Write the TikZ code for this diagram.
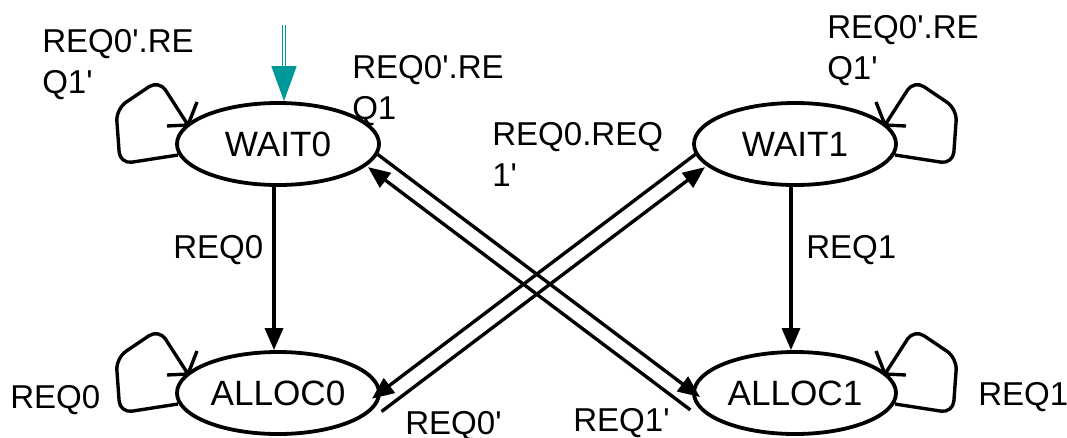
\documentclass[tikz,border=0pt]{standalone}
\usepackage{fontspec}
\newfontfamily\diagfont{Liberation Sans}
\usetikzlibrary{shapes.geometric, arrows.meta, calc}
\definecolor{initcol}{RGB}{0,153,153}
\tikzset{
	cond/.style={anchor=north west, inner sep=0pt, align=left, font=\diagfont\fontsize{23.5}{29}\selectfont},
	trans/.style={line width=2.4pt, -{Triangle[length=.55cm, width=.45cm]}},
	selfloop/.style={line width=2.4pt, line join=round},
}
\begin{document}
\begin{tikzpicture}[x=.025cm, y=-.025cm]
	\useasboundingbox (0, 0) rectangle (1067, 437);
	\begin{scope}[ellipse, inner sep=0pt, minimum width=5.05cm, minimum height=2.05cm, line width=2.7pt, font=\diagfont\fontsize{25}{30}\selectfont]
		\node[draw] (w0) at (278, 144) {WAIT0};
		\node[draw] (w1) at (795, 144) {WAIT1};
		\node[draw] (a0) at (278, 393) {ALLOC0};
		\node[draw] (a1) at (795, 393) {ALLOC1};
	\end{scope}
	% start marker
	\coordinate (init) at (284, 25);
	\draw[initcol, line width=1.2pt, double=white, double distance=.8pt, -{Triangle[length=.875cm, width=.625cm, fill=initcol]}]
		(init) -- (init |- w0.north);
	% self loops with open heads, mirrored on the right-hand side
	\foreach \s/\d in {w0/1, a0/1, w1/-1, a1/-1}
		\draw[selfloop, shift={(\s)}, xscale=\d]
			(-100, 11) [rounded corners=.3cm] -- (-158, 20) -- (-162, -35) -- (-119, -64) -- (-90, -19)
			[sharp corners] (-111, -18) -- (-90, -19) -- (-81, -42);
	\draw[trans] ([xshift=-.1cm]w0.south) -- ([xshift=-.1cm]a0.north);
	\draw[trans] ([xshift=-.1cm]w1.south) -- ([xshift=-.1cm]a1.north);
	\draw[trans] ($(w0.350)!.2cm!90:(a1.186)$) -- ($(a1.186)!.2cm!-90:(w0.350)$);
	\draw[trans] ($(a1.186)!.2cm!90:(w0.350)$) -- ($(w0.350)!.2cm!-90:(a1.186)$);
	\draw[trans] ($(w1.190)!.2cm!-90:(a0.353)$) -- ($(a0.353)!.2cm!90:(w1.190)$);
	\draw[trans] ($(a0.353)!.2cm!-90:(w1.190)$) -- ($(w1.190)!.2cm!90:(a0.353)$);
	% conditions
	\node[cond] (c0) at (42, 29) {REQ0'.RE\\Q1'};
	\node[cond] (c1) at (827, 15) {REQ0'.RE\\Q1'};
	\node[cond] (c2) at (352, 55) {REQ0'.RE\\Q1};
	\node[cond] (c3) at (492, 122) {REQ0.REQ\\1'};
	\node[cond] (c4) at (173, 235) {REQ0};
	\node[cond] (c5) at (806, 235) {REQ1};
	\node[cond] (c6) at (10, 385) {REQ0};
	\node[cond] (c7) at (978, 382) {REQ1};
	\node[cond] (c8) at (405, 411) {REQ0'};
	\node[cond] (c9) at (573, 408) {REQ1'};
\end{tikzpicture}
\end{document}
